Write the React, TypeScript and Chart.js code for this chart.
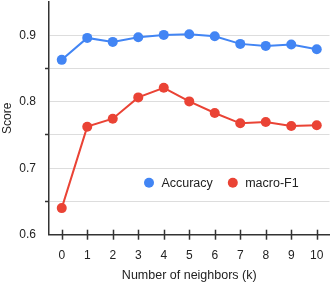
import React, { useEffect, useRef } from "react";
import { Chart, registerables } from "chart.js";

Chart.register(...registerables);

const kValues = [0, 1, 2, 3, 4, 5, 6, 7, 8, 9, 10];
const accuracy = [0.863, 0.896, 0.89, 0.897, 0.9005, 0.9015, 0.8985, 0.887, 0.884, 0.886, 0.879];
const macroF1 = [0.64, 0.7625, 0.7745, 0.8065, 0.821, 0.8005, 0.783, 0.7675, 0.7695, 0.7635, 0.7645];
const yTicks = [0.6, 0.65, 0.7, 0.75, 0.8, 0.85, 0.9];
const seriesNames = ["Accuracy", "macro-F1"];
const seriesColors = ["#4285F4", "#EA4335"];

const FONT = "'Liberation Sans', Arial, Helvetica, sans-serif";
const AXIS = "#333333";
const TEXT = "#222222";

const isMajor = (v: number) => Math.round(v * 100) % 10 === 0;

const xTickPlugin = {
  id: "xTickMarks",
  afterDraw(chart: any) {
    const xs = chart.scales.x;
    const ctx = chart.ctx;
    const y = chart.chartArea.bottom;
    ctx.save();
    ctx.strokeStyle = AXIS;
    ctx.lineWidth = 1.5;
    for (const t of xs.ticks) {
      const px = Math.round(xs.getPixelForValue(t.value)) + 0.5;
      ctx.beginPath();
      ctx.moveTo(px, y - 5);
      ctx.lineTo(px, y + 5);
      ctx.stroke();
    }
    ctx.restore();
  },
};

const legendPlugin = {
  id: "insideLegend",
  afterDraw(chart: any) {
    const ctx = chart.ctx;
    const area = chart.chartArea;
    ctx.save();
    ctx.font = `12.5px ${FONT}`;
    ctx.textBaseline = "middle";
    ctx.textAlign = "left";
    let x = area.left + 95;
    const y = area.bottom - 52;
    chart.data.datasets.forEach((ds: any) => {
      ctx.fillStyle = ds.borderColor;
      ctx.beginPath();
      ctx.arc(x + 5, y, 5, 0, Math.PI * 2);
      ctx.fill();
      ctx.fillStyle = TEXT;
      ctx.fillText(ds.label, x + 17.4, y + 0.5);
      const w = ctx.measureText(ds.label).width;
      x = x + 17.4 + w + 15;
    });
    ctx.restore();
  },
};

export default function App() {
  const ref = useRef<HTMLCanvasElement | null>(null);
  useEffect(() => {
    document.body.style.margin = "0";
    if (!ref.current) return;
    const datasets = [accuracy, macroF1].map((vals, i) => ({
      label: seriesNames[i],
      data: kValues.map((k, j) => ({ x: k, y: vals[j] })),
      borderColor: seriesColors[i],
      backgroundColor: seriesColors[i],
      borderWidth: 2,
      pointRadius: 5,
      pointBorderWidth: 0,
      pointHoverRadius: 5,
      tension: 0,
    }));
    const chart = new Chart(ref.current, {
      type: "line",
      data: { datasets },
      plugins: [xTickPlugin, legendPlugin],
      options: {
        responsive: false,
        animation: false,
        layout: { autoPadding: false, padding: { top: 2, right: 2.5, left: 0, bottom: 0 } },
        plugins: { legend: { display: false }, tooltip: { enabled: false } },
        scales: {
          x: {
            type: "linear",
            min: -0.5,
            max: 10.5,
            afterBuildTicks: (axis: any) => {
              axis.ticks = kValues.map((v) => ({ value: v }));
            },
            afterFit: (scale: any) => {
              scale.height = 47.3;
              scale.paddingLeft = 0;
              scale.paddingRight = 0;
              scale.paddingTop = 0;
              scale.paddingBottom = 0;
            },
            grid: { display: false, drawTicks: false, tickLength: 0 },
            border: { display: true, color: AXIS, width: 1.5 },
            ticks: {
              padding: 14,
              color: TEXT,
              font: { family: FONT, size: 12 },
              maxRotation: 0,
              callback: (v: any) => String(v),
            },
            title: {
              display: true,
              text: "Number of neighbors (k)",
              color: TEXT,
              font: { family: FONT, size: 12.5 },
              padding: { top: 0, bottom: -1.5 },
            },
          },
          y: {
            type: "linear",
            min: 0.6,
            max: 0.95,
            afterBuildTicks: (axis: any) => {
              axis.ticks = yTicks.map((v) => ({ value: v }));
            },
            afterFit: (scale: any) => {
              scale.width = 49;
              scale.paddingLeft = 0;
              scale.paddingRight = 0;
              scale.paddingTop = 0;
              scale.paddingBottom = 0;
            },
            grid: {
              color: "#dddddd",
              lineWidth: 1,
              tickLength: 4,
              tickWidth: 1.5,
              tickColor: (c: any) => (c.tick && isMajor(c.tick.value) ? "rgba(0,0,0,0)" : AXIS),
            },
            border: { display: true, color: AXIS, width: 1.5 },
            ticks: {
              padding: 9,
              color: TEXT,
              font: { family: FONT, size: 12 },
              callback: (v: any) => (isMajor(Number(v)) ? Number(v).toFixed(1) : ""),
            },
            title: {
              display: true,
              text: "Score",
              color: TEXT,
              font: { family: FONT, size: 12 },
              padding: { top: 0, bottom: 0 },
            },
          },
        },
      },
    });
    return () => chart.destroy();
  }, []);
  return <canvas ref={ref} width={332} height={282} style={{ display: "block" }} />;
}
